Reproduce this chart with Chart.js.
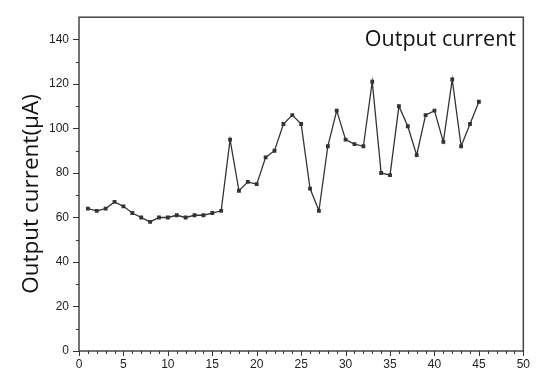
<!DOCTYPE html>
<html><head><meta charset="utf-8">
<script src="https://cdn.jsdelivr.net/npm/chart.js@4"></script>
<style>html,body{margin:0;padding:0;background:#fff}#wrap{width:536px;height:373px}</style>
</head><body><div id="wrap"><canvas id="c" width="536" height="373"></canvas></div>
<script>
const xValues = [1,2,3,4,5,6,7,8,9,10,11,12,13,14,15,16,17,18,19,20,21,22,23,24,25,26,27,28,29,30,31,32,33,34,35,36,37,38,39,40,41,42,43,44,45];
const currentValues = [64,63,64,67,65,62,60,58,60,60,61,60,61,61,62,63,95,72,76,75,87,90,102,106,102,73,63,92,108,95,93,92,121,80,79,110,101,88,106,108,94,122,92,102,112];
const seriesLabel = 'Output current';
const yTitle = 'Output current(μA)';
const xTicks = [0,5,10,15,20,25,30,35,40,45,50];
const yTicks = [0,20,40,60,80,100,120,140];

const ink = '#333';
const framePlugin = {
  id: 'frame',
  afterDraw(chart) {
    const {ctx, chartArea: a, scales: {x, y}} = chart;
    ctx.save();
    ctx.strokeStyle = '#444';
    ctx.lineWidth = 1.5;
    ctx.strokeRect(a.left, a.top, a.right - a.left, a.bottom - a.top);
    ctx.lineWidth = 1;
    ctx.strokeStyle = ink;
    ctx.beginPath();
    for (let v = 0; v <= 50; v++) {
      const px = Math.round(x.getPixelForValue(v)) + 0.5;
      const len = v % 5 === 0 ? 5 : 3;
      ctx.moveTo(px, a.bottom); ctx.lineTo(px, a.bottom + len);
    }
    for (let v = 0; v <= 140; v += 10) {
      const py = Math.round(y.getPixelForValue(v)) + 0.5;
      const len = v % 20 === 0 ? 6 : 3;
      ctx.moveTo(a.left, py); ctx.lineTo(a.left - len, py);
    }
    ctx.stroke();
    // legend text
    ctx.fillStyle = '#111';
    ctx.font = '21.5px "Open Sans"';
    ctx.textAlign = 'right';
    ctx.textBaseline = 'alphabetic';
    ctx.fillText(seriesLabel, 516, 46);
    // y title
    ctx.translate(38, 194);
    ctx.rotate(-Math.PI / 2);
    ctx.textAlign = 'center';
    ctx.font = '22.5px "Open Sans"';
    ctx.fillText(yTitle, 0, 0);
    ctx.restore();
  }
};

new Chart(document.getElementById('c'), {
  type: 'line',
  data: {
    labels: xValues,
    datasets: [{
      label: seriesLabel,
      data: xValues.map((xv, i) => ({x: xv, y: currentValues[i]})),
      borderColor: ink,
      backgroundColor: ink,
      borderWidth: 1.3,
      pointStyle: 'rect',
      pointRadius: 2.7,
      pointBorderWidth: 0,
      tension: 0
    }]
  },
  options: {
    responsive: false,
    animation: false,
    layout: {padding: {left: 0, right: 9, top: 17, bottom: 0}},
    plugins: {legend: {display: false}, tooltip: {enabled: false}},
    scales: {
      x: {
        type: 'linear', min: 0, max: 50,
        afterBuildTicks: s => { s.ticks = xTicks.map(v => ({value: v})); },
        afterFit: s => { s.height = 22; },
        grid: {display: false, drawTicks: false},
        border: {display: false},
        ticks: {padding: 6, color: '#222', font: {family: '"Liberation Sans", Arial', size: 12}, maxRotation: 0, autoSkip: false}
      },
      y: {
        type: 'linear', min: 0, max: 150,
        afterBuildTicks: s => { s.ticks = yTicks.map(v => ({value: v})); },
        afterFit: s => { s.width = 79; },
        grid: {display: false, drawTicks: false},
        border: {display: false},
        ticks: {padding: 10, color: '#222', font: {family: '"Liberation Sans", Arial', size: 12}}
      }
    }
  },
  plugins: [framePlugin]
});
</script>
</body></html>
